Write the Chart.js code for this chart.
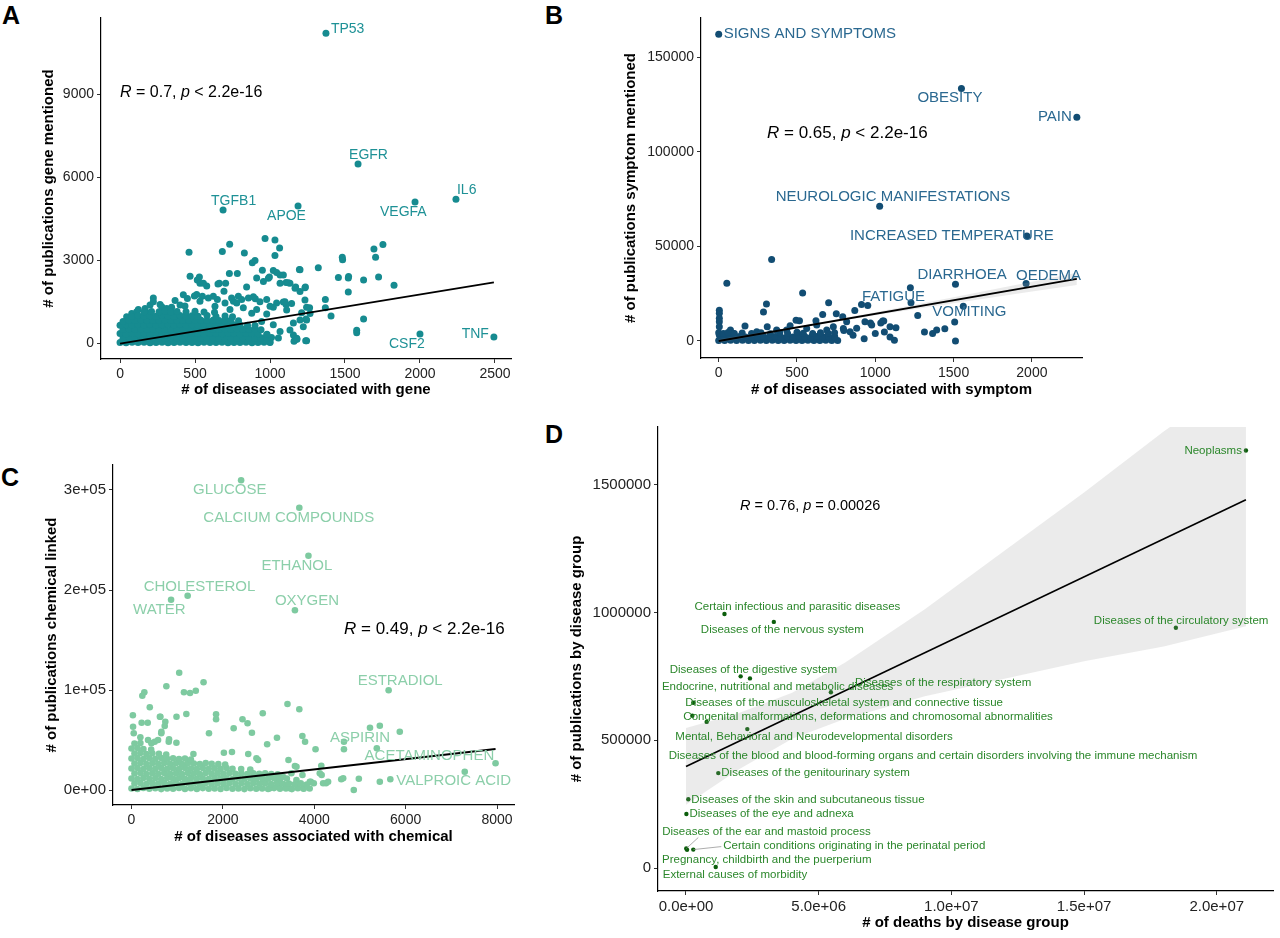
<!DOCTYPE html>
<html>
<head>
<meta charset="utf-8">
<script src="https://cdn.jsdelivr.net/npm/chart.js@4.4.1/dist/chart.umd.min.js"></script>
<style>
body { margin: 0; background: #fff; width: 1280px; height: 938px; position: relative; overflow: hidden; }
canvas { position: absolute; }
.tag { position: absolute; font: bold 25px "Liberation Sans", Arial, sans-serif; line-height: 25px; color: #000; }
</style>
</head>
<body>
<div class="tag" style="left:2px;top:3px">A</div>
<div class="tag" style="left:545px;top:3px">B</div>
<div class="tag" style="left:1px;top:465px">C</div>
<div class="tag" style="left:545px;top:422px">D</div>

<canvas id="chartA" width="530" height="410" style="left:0;top:0"></canvas>
<canvas id="chartB" width="720" height="410" style="left:560px;top:0"></canvas>
<canvas id="chartC" width="540" height="430" style="left:0;top:430px"></canvas>
<canvas id="chartD" width="720" height="523" style="left:560px;top:415px"></canvas>

<script>
const FONT = '"Liberation Sans", Arial, Helvetica, sans-serif';

// ---------- A: genes ----------
const geneNames = ['TP53', 'EGFR', 'IL6', 'VEGFA', 'TGFB1', 'APOE', 'CSF2', 'TNF'];
const geneDiseases = [1373, 1587, 2240, 1967, 687, 1187, 2000, 2493];
const genePubs = [11200, 6470, 5200, 5100, 4810, 4950, 325, 217];
// other genes, flat x,y pairs
const geneCloud = [
  460,3280, 682,3310, 731,3570, 829,3250, 967,3780, 1033,3720, 1064,3430, 1033,3160, 882,2900, 900,2980,
  467,2410, 529,2390, 729,2510, 782,2510, 653,2130, 704,2160, 693,1870, 844,2020, 949,2630, 1022,2620,
  996,2390, 1067,2460, 911,2350, 1200,2650, 1107,2190, 1133,2160, 1171,2020, 1236,2020, 1322,2720, 1482,3100,
  1693,3400, 1753,3560, 1704,3100, 1456,2370, 1524,2400, 1624,2280, 1724,2390, 1827,2090, 1522,1840, 1369,1570,
  1369,1270, 1407,980, 1624,870, 1578,460, 1238,80, 1211,1090, 1240,870, 1264,1270, 1107,1390, 1156,720,
  1167,120, 511,1750, 549,1690, 622,1690, 756,1510, 789,1690, 856,1630, 902,1600, 1044,1450, 1089,1480,
  978,1570, 222,1630, 267,1390, 122,1210, 56,900, 178,1090,
  515,2280, 533,2160, 578,2060, 556,2160, 662,2160, 1044,2550, 1089,2460, 1067,2160, 1122,2180, 1167,1980,
  1200,1860, 1233,2000, 1196,2660, 956,2220, 989,2340, 889,1670, 933,1490, 1100,1490, 1022,1290, 1111,1190,
  1144,1430, 1233,1550, 1244,1290, 1267,1070, 1200,830, 1244,830, 1222,590, 1133,470, 1156,290, 1178,170,
  1244,80, 1522,2350, 1484,3010, 1578,370,
  496,1700, 533,1510, 589,1630, 649,1570, 700,1450, 744,1630, 778,1450, 811,1570, 633,1330, 733,1210,
  822,1270, 878,1080, 911,1210, 978,1050, 1000,1330, 944,780, 1022,660, 1067,420, 978,300, 1056,180,
  1000,40, 944,180,
  44,950, 78,1070, 111,1130, 167,1250, 200,1370, 222,1490, 278,1310, 311,1250, 344,1290, 400,1370,
  433,1340, 367,1540, 422,1740, 449,1610,
  0,20, 40,10, 80,25, 120,15, 160,30, 200,10, 240,20, 280,25, 320,10, 360,20, 400,30, 440,15, 480,20,
  520,10, 560,25, 600,15, 640,20, 680,30, 720,10, 760,20, 800,15, 840,25, 880,10, 920,20, 960,30, 1000,15,
  1160,60, 1180,140,
  20,170, 60,190, 100,175, 140,185, 180,170, 220,190, 260,180, 300,170, 340,195, 380,180, 420,170, 460,185,
  500,190, 540,175, 580,180, 620,190, 660,170, 700,185, 740,180, 780,175, 820,190, 860,180, 900,170,
  940,185, 980,180, 1010,200,
  0,340, 40,330, 80,350, 120,335, 160,345, 200,330, 240,350, 280,340, 320,330, 360,345, 400,350, 440,335,
  480,340, 520,350, 560,330, 600,345, 640,340, 680,335, 720,350, 760,340, 800,330, 840,345, 880,350,
  920,335, 980,320,
  20,500, 60,510, 100,490, 140,505, 180,500, 220,495, 260,510, 300,500, 340,490, 380,505, 420,500, 460,510,
  500,495, 540,500, 580,505, 620,490, 660,500, 700,510, 740,495, 780,505, 820,500, 860,490, 900,505, 940,480,
  0,640, 40,660, 80,650, 120,665, 160,655, 200,670, 240,650, 280,660, 320,665, 360,650, 400,670, 440,655,
  480,660, 520,650, 560,665, 600,660, 640,650, 680,670, 720,655, 760,660, 800,650, 850,640, 900,630,
  20,780, 60,810, 100,820, 140,830, 180,815, 220,825, 260,810, 300,830, 340,820, 380,815, 420,825, 460,810,
  500,830, 540,820, 580,815, 620,825, 660,810, 700,820, 740,830, 790,800,
  80,960, 120,990, 160,975, 200,985, 240,970, 280,990, 320,980, 360,970, 400,990, 440,975, 480,985,
  520,970, 580,990, 640,960, 700,975, 750,950,
  160,1120, 210,1140, 260,1130, 300,1150, 340,1120, 380,1140, 440,1130, 500,1150, 560,1120, 630,1110
];
const geneFitX = [0, 2493];
const geneFitY = [-20, 2190];
const geneXTicks = [0, 500, 1000, 1500, 2000, 2500];
const geneYTicks = [0, 3000, 6000, 9000];

// ---------- B: symptoms ----------
const symptomNames = ['SIGNS AND SYMPTOMS', 'OBESITY', 'PAIN', 'NEUROLOGIC MANIFESTATIONS', 'INCREASED TEMPERATURE',
  'DIARRHOEA', 'OEDEMA', 'FATIGUE', 'VOMITING'];
const symptomDiseases = [0, 1550, 2287, 1028, 1968, 1512, 1963, 1228, 1562];
const symptomPubs = [162000, 133300, 118200, 71200, 55400, 30000, 30400, 20150, 18300];
const symptomCloud = [
  52,30500, 338,43000, 536,25300, 305,19500, 286,15300, 702,20200, 664,14000, 751,14400, 869,16100, 912,19300,
  952,18800, 1224,28100, 1271,13500, 1507,10000, 1444,6500, 1366,3900, 1314,4700, 1132,7000, 1122,400, 1512,0,
  1054,10500, 1035,9500, 969,9500, 4,16300, 4,14600, 4,12000, 4,10200, 4,7500, 4,3200, 494,11000,
  516,10700, 621,10700, 168,7900, 75,5800, 94,4000, 792,12800, 817,10200, 881,6700, 934,10200, 977,8400,
  1047,10500, 1094,7500, 796,6600, 839,4900, 732,7500, 690,5800, 626,8400, 562,6600, 456,8100, 434,5800,
  370,5800, 310,7500, 243,4900, 1392,5800, 799,5600, 858,3000, 929,1200, 1000,3900, 1058,4700, 1094,2100,
  0,300, 38,200, 76,400, 114,250, 152,350, 190,200, 228,300, 266,400, 304,250, 342,350, 380,300, 418,200,
  456,400, 494,300, 532,250, 570,350, 608,300, 646,200, 684,400, 722,300, 760,250,
  19,2200, 57,2500, 95,2000, 133,2400, 171,2100, 209,2300, 247,2000, 285,2500, 323,2200, 361,2400, 399,2000,
  437,2300, 475,2100, 513,2500, 551,2200, 589,2000, 627,2400, 665,2200, 703,2100, 741,2300,
  0,4300, 30,4000, 60,4500, 100,3900, 150,4200, 210,4000, 270,4400, 330,3800, 390,4300, 440,4000, 500,4600,
  540,4100, 600,3900, 650,4400, 700,4000, 740,4300
];
const symptomFitX = [0, 2287];
const symptomFitY = [0, 32800];
const symptomBandX = [0, 500, 1000, 1500, 2000, 2287];
const symptomBandHi = [900, 7670, 15140, 23110, 31280, 36000];
const symptomBandLo = [-900, 6670, 13540, 19910, 26080, 29600];
const symptomXTicks = [0, 500, 1000, 1500, 2000];
const symptomYTicks = [0, 50000, 100000, 150000];

// ---------- C: chemicals ----------
const chemNames = ['GLUCOSE', 'CALCIUM COMPOUNDS', 'ETHANOL', 'CHOLESTEROL', 'WATER', 'OXYGEN', 'ESTRADIOL',
  'ASPIRIN', 'ACETAMINOPHEN', 'VALPROIC ACID'];
const chemDiseases = [2399, 3673, 3873, 1229, 866, 3577, 5628, 4650, 7968, 5665];
const chemPubs = [309700, 282300, 234300, 194300, 190300, 179700, 99700, 48300, 26700, 10700];
const chemCloud = [
  1044,117300, 1577,107700, 763,103700, 1148,97700, 1281,97000, 1407,99300, 281,97700, 237,94300, 400,82700, 30,74700,
  622,73300, 985,73300, 1200,76000, 740,68300, 222,67300, 355,67300, 1851,75700, 1851,70700, 2429,70700, 2540,66700,
  2873,76700, 3414,86000, 3673,80700, 2236,61700, 1696,56700, 2636,57300, 652,56700, 815,48300, 3184,52300, 3740,54000,
  3799,48300, 2969,45700, 4028,40700, 4650,40700, 5220,62300, 5435,64300, 5872,58300, 5369,41700, 2555,36000, 2022,37300,
  2199,38000, 1355,36000, 3436,30000, 3577,24000, 4154,24300, 4162,15000, 4258,6700, 4591,10700, 4976,11300, 5435,8300,
  7294,18300, 4865,0, 3925,8300,
  632,73300, 727,64000, 34,63300, 49,56700, 194,52700, 362,50000, 435,46700, 508,48300, 581,50000, 654,58300,
  822,50700, 983,47300, 2735,31700, 2771,30000, 3611,23300, 4633,11700, 3318,13300, 3500,16700, 3610,10000, 3742,15000,
  3903,8300, 3990,6700, 4121,16700, 4194,6700, 4303,8300, 3209,3300, 3465,1700, 3757,1700, 2896,8300, 3027,1700,
  0,1500, 130,1000, 260,2000, 390,1200, 520,1800, 650,900, 780,1600, 910,1300, 1040,2000, 1170,1100, 1300,1700,
  1430,1000, 1560,1900, 1690,1300, 1820,1500, 1950,1000, 2080,2000, 2210,1200, 2340,1600, 2470,900, 2600,1800,
  2730,1300, 2860,1500, 2990,1000, 3120,1900, 3250,1200, 3380,1600, 3510,900, 3640,1700, 3770,1200, 3900,1500,
  65,6500, 195,7000, 325,6000, 455,6800, 585,6300, 715,7000, 845,6200, 975,6700, 1105,6000, 1235,6900, 1365,6400,
  1495,6000, 1625,7000, 1755,6300, 1885,6600, 2015,6100, 2145,6900, 2275,6300, 2405,6700, 2535,6000, 2665,6800,
  2795,6200, 2925,6600, 3055,6000, 3185,6900, 3315,6200, 3445,6500, 3575,5800, 3705,6600, 3835,5500,
  0,11500, 130,11000, 260,12000, 390,11300, 520,11800, 650,11000, 780,12000, 910,11400, 1040,11800, 1170,11100,
  1300,12000, 1430,11300, 1560,11700, 1690,11000, 1820,12000, 1950,11400, 2080,11800, 2210,11000, 2340,11900,
  2470,11200, 2600,11600, 2730,11000, 2860,11800, 2990,11300, 3120,11700, 3250,11000, 3400,11500,
  65,16500, 195,17000, 325,16000, 455,16800, 585,16300, 715,17000, 845,16200, 975,16700, 1105,16000, 1235,16900,
  1365,16400, 1495,16000, 1625,17000, 1755,16300, 1885,16600, 2015,16100, 2145,16900, 2275,16300, 2405,16700,
  2535,16000, 2665,16800, 2795,16200, 2925,16600, 3060,16000, 3200,15800,
  0,21500, 130,22000, 260,21000, 390,21800, 520,21300, 650,22000, 780,21200, 910,21700, 1040,21000, 1170,21900,
  1300,21400, 1430,21000, 1560,22000, 1690,21300, 1820,21600, 1950,21100, 2080,21900, 2210,21300, 2400,21000, 2600,20500,
  65,26500, 195,27000, 325,26000, 455,26800, 585,26300, 715,27000, 845,26200, 975,26700, 1105,26000, 1235,26900,
  1365,26400, 1495,26000, 1625,27000, 1755,26300, 1900,26000, 2050,25500,
  0,31500, 130,32000, 260,31000, 390,31800, 520,31300, 650,32000, 780,31200, 910,31700, 1040,31000, 1170,31500, 1300,30500,
  65,36500, 195,37000, 325,36000, 455,36800, 600,36300, 760,35500,
  0,41500, 130,42000, 260,41000, 430,40500,
  65,46500, 195,47000
];
const chemFitX = [0, 7968];
const chemFitY = [0, 41000];
const chemXTicks = [0, 2000, 4000, 6000, 8000];
const chemYTicks = [0, 100000, 200000, 300000];
const chemYLabels = ['0e+00', '1e+05', '2e+05', '3e+05'];

// ---------- D: disease groups ----------
const groupNames = [
  'Neoplasms',
  'Certain infectious and parasitic diseases',
  'Diseases of the nervous system',
  'Diseases of the circulatory system',
  'Diseases of the digestive system',
  'Endocrine, nutritional and metabolic diseases',
  'Diseases of the respiratory system',
  'Diseases of the musculoskeletal system and connective tissue',
  'Congenital malformations, deformations and chromosomal abnormalities',
  'Diseases of the blood and blood-forming organs and certain disorders involving the immune mechanism',
  'Mental, Behavioral and Neurodevelopmental disorders',
  'Diseases of the genitourinary system',
  'Diseases of the skin and subcutaneous tissue',
  'Diseases of the eye and adnexa',
  'Diseases of the ear and mastoid process',
  'Pregnancy, childbirth and the puerperium',
  'Certain conditions originating in the perinatal period',
  'External causes of morbidity'
];
const groupDeaths = [21100000, 1450000, 3310000, 18460000, 2060000, 2410000, 5460000, 276000, 239000,
  779000, 2310000, 1217000, 87000, 15000, 10000, 40000, 275000, 1120000];
const groupPubs = [1633000, 994000, 963000, 940000, 750000, 742000, 688000, 647000, 596000,
  572000, 544000, 372000, 270000, 212000, 77000, 72000, 73000, 5000];
const groupFitX = [0, 21100000];
const groupFitY = [398000, 1440000];
const groupBandX = [0, 2000000, 4000000, 6000000, 9000000, 12000000, 15000000, 18000000, 21100000];
const groupBandHi = [548000, 607000, 686000, 804000, 1012000, 1241000, 1469000, 1707000, 1934000];
const groupBandLo = [248000, 387000, 506000, 584000, 672000, 741000, 809000, 867000, 946000];
const groupXTicks = [0, 5000000, 10000000, 15000000, 20000000];
const groupXLabels = ['0.0e+00', '5.0e+06', '1.0e+07', '1.5e+07', '2.0e+07'];
const groupYTicks = [0, 500000, 1000000, 1500000];

// label placement (pixel offset from the point: dx, dy, align, leader)
const geneLabelPos = [[5,-4], [-9,-9], [1,-9], [-35,10], [-12,-9], [-31,10], [-31,10], [-5,-3,'right']];
const symptomLabelPos = [[5,0], [-44,9], [-5,0,'right'], [-104,-9], [-177,0], [-38,-9], [-10,-8], [-49,-6], [-31,6]];
const chemLabelPos = [[-48,10], [-96,10], [-47,10], [-44,-9], [-38,10], [-20,-9], [-31,-9], [-14,-4], [-131,-7], [6,2]];
const groupLabelPos = [[-4,0,'right'], [-30,-7], [-73,8], [-82,-7], [-71,-7], [-88,8], [24,-9], [-8,0], [-9,1],
  [-38,34], [-72,8], [3,0], [3,1], [3,0], [-24,-17,'left',[12,-11]], [-25,10], [30,-4,'left',[28,-3]], [-53,8]];

function pairs(flat) {
  const out = [];
  for (let i = 0; i < flat.length; i += 2) out.push({x: flat[i], y: flat[i + 1]});
  return out;
}
function zip(xs, ys) {
  return xs.map((x, i) => ({x: x, y: ys[i]}));
}

const pointLabels = {
  id: 'pointLabels',
  afterDatasetsDraw(chart, args, opts) {
    if (!opts.names) return;
    const meta = chart.getDatasetMeta(opts.dataset);
    const ctx = chart.ctx;
    ctx.save();
    ctx.font = opts.font;
    ctx.fillStyle = opts.color;
    ctx.textBaseline = 'middle';
    opts.names.forEach((name, i) => {
      const p = meta.data[i];
      const [dx, dy, align, lead] = opts.pos[i];
      if (lead) {
        ctx.strokeStyle = '#8a8a8a';
        ctx.lineWidth = 0.7;
        ctx.beginPath();
        ctx.moveTo(p.x, p.y);
        ctx.lineTo(p.x + lead[0], p.y + lead[1]);
        ctx.stroke();
      }
      ctx.textAlign = align || 'left';
      ctx.fillText(name, p.x + dx, p.y + dy);
    });
    ctx.restore();
  }
};

const statText = {
  id: 'statText',
  afterDraw(chart, args, opts) {
    if (!opts.parts) return;
    const ctx = chart.ctx;
    ctx.save();
    ctx.fillStyle = '#000';
    ctx.textBaseline = 'middle';
    ctx.textAlign = 'left';
    let x = opts.x;
    opts.parts.forEach(([t, italic]) => {
      ctx.font = (italic ? 'italic ' : '') + opts.size + 'px ' + FONT;
      ctx.fillText(t, x, opts.y);
      x += ctx.measureText(t).width;
    });
    ctx.restore();
  }
};
Chart.register(pointLabels, statText);

function axis(a, horizontal) {
  return {
    type: 'linear',
    min: a.min,
    max: a.max,
    afterBuildTicks: s => { s.ticks = a.ticks.map(v => ({value: v})); },
    afterFit: s => { if (horizontal) s.height = a.size; else s.width = a.size; },
    grid: { drawOnChartArea: false, drawTicks: true, tickLength: 4, tickColor: '#333', tickWidth: 1 },
    border: { display: true, color: '#000', width: 1.2 },
    ticks: {
      autoSkip: false, maxRotation: 0, padding: 3, color: '#222',
      font: { family: FONT, size: a.font || 14 },
      callback: (v, i) => a.labels ? a.labels[i] : String(v)
    },
    title: {
      display: true, text: a.title, color: '#000',
      font: { family: FONT, size: 15, weight: 'bold' },
      padding: horizontal ? { top: 0, bottom: a.titlePad } : { top: a.titlePad, bottom: 0 }
    }
  };
}

function panel(id, p) {
  const datasets = [
    { data: zip(p.fitX, p.fitY), showLine: true, borderColor: '#000', borderWidth: p.lineWidth || 1.8, pointRadius: 0, fill: false }
  ];
  if (p.bandX) {
    datasets.push({ data: zip(p.bandX, p.bandHi), showLine: true, borderColor: 'rgba(0,0,0,0)', pointRadius: 0,
      fill: '+1', backgroundColor: 'rgba(153,153,153,0.2)' });
    datasets.push({ data: zip(p.bandX, p.bandLo), showLine: true, borderColor: 'rgba(0,0,0,0)', pointRadius: 0, fill: false });
  }
  const labelled = datasets.length;
  datasets.push({ data: zip(p.xs, p.ys), pointRadius: p.radius, pointBackgroundColor: p.color, pointBorderWidth: 0 });
  if (p.cloud) datasets.push({ data: pairs(p.cloud), pointRadius: p.radius, pointBackgroundColor: p.color, pointBorderWidth: 0 });

  return new Chart(document.getElementById(id), {
    type: 'scatter',
    data: { datasets: datasets },
    options: {
      responsive: false,
      animation: false,
      events: [],
      layout: { padding: { top: p.padTop, right: p.padRight, left: 0, bottom: 0 } },
      plugins: {
        legend: { display: false },
        tooltip: { enabled: false },
        pointLabels: { dataset: labelled, names: p.names, pos: p.pos, color: p.labelColor, font: p.labelFont },
        statText: p.stat
      },
      scales: { x: axis(p.x, true), y: axis(p.y, false) }
    }
  });
}

panel('chartA', {
  xs: geneDiseases, ys: genePubs, cloud: geneCloud, names: geneNames, pos: geneLabelPos,
  fitX: geneFitX, fitY: geneFitY,
  color: '#168b90', radius: 3.5, labelColor: '#1e9196', labelFont: '14px ' + FONT,
  padTop: 18, padRight: 19,
  x: { min: -127, max: 2607, ticks: geneXTicks, size: 51, title: '# of diseases associated with gene', titlePad: 11 },
  y: { min: -578, max: 11747, ticks: geneYTicks, size: 101, title: '# of publications gene mentioned', titlePad: 40 },
  stat: { x: 120, y: 93, size: 16, parts: [['R', true], [' = 0.7, ', false], ['p', true], [' < 2.2e-16', false]] }
});

panel('chartB', {
  xs: symptomDiseases, ys: symptomPubs, cloud: symptomCloud, names: symptomNames, pos: symptomLabelPos,
  fitX: symptomFitX, fitY: symptomFitY, bandX: symptomBandX, bandHi: symptomBandHi, bandLo: symptomBandLo,
  color: '#124d73', radius: 3.5, labelColor: '#2a6890', labelFont: '15px ' + FONT,
  padTop: 18, padRight: 198,
  x: { min: -113, max: 2320, ticks: symptomXTicks, size: 52, title: '# of diseases associated with symptom', titlePad: 11 },
  y: { min: -8980, max: 170600, ticks: symptomYTicks, size: 141, title: '# of publications symptom mentioned', titlePad: 62 },
  stat: { x: 207, y: 133, size: 17, parts: [['R', true], [' = 0.65, ', false], ['p', true], [' < 2.2e-16', false]] }
});

panel('chartC', {
  xs: chemDiseases, ys: chemPubs, cloud: chemCloud, names: chemNames, pos: chemLabelPos,
  fitX: chemFitX, fitY: chemFitY,
  color: '#7ecaa0', radius: 3.3, labelColor: '#8ccfaa', labelFont: '15px ' + FONT,
  padTop: 35, padRight: 26,
  x: { min: -405, max: 8372, ticks: chemXTicks, size: 55, title: '# of diseases associated with chemical', titlePad: 14 },
  y: { min: -15000, max: 325000, ticks: chemYTicks, labels: chemYLabels, font: 15, size: 113, title: '# of publications chemical linked', titlePad: 43 },
  stat: { x: 344, y: 199, size: 17, parts: [['R', true], [' = 0.49, ', false], ['p', true], [' < 2.2e-16', false]] }
});

panel('chartD', {
  xs: groupDeaths, ys: groupPubs, names: groupNames, pos: groupLabelPos,
  fitX: groupFitX, fitY: groupFitY, bandX: groupBandX, bandHi: groupBandHi, bandLo: groupBandLo, lineWidth: 1.6,
  color: '#0b5e0b', radius: 2.2, labelColor: '#2b872b', labelFont: '11.5px ' + FONT,
  padTop: 7, padRight: 7,
  x: { min: -1055000, max: 22120000, ticks: groupXTicks, labels: groupXLabels, font: 15, size: 47, title: '# of deaths by disease group', titlePad: 6 },
  y: { min: -88900, max: 1724700, ticks: groupYTicks, font: 15, size: 98, title: '# of publications by disease group', titlePad: 8 },
  stat: { x: 180, y: 91, size: 14.5, parts: [['R', true], [' = 0.76, ', false], ['p', true], [' = 0.00026', false]] }
});
</script>
</body>
</html>
